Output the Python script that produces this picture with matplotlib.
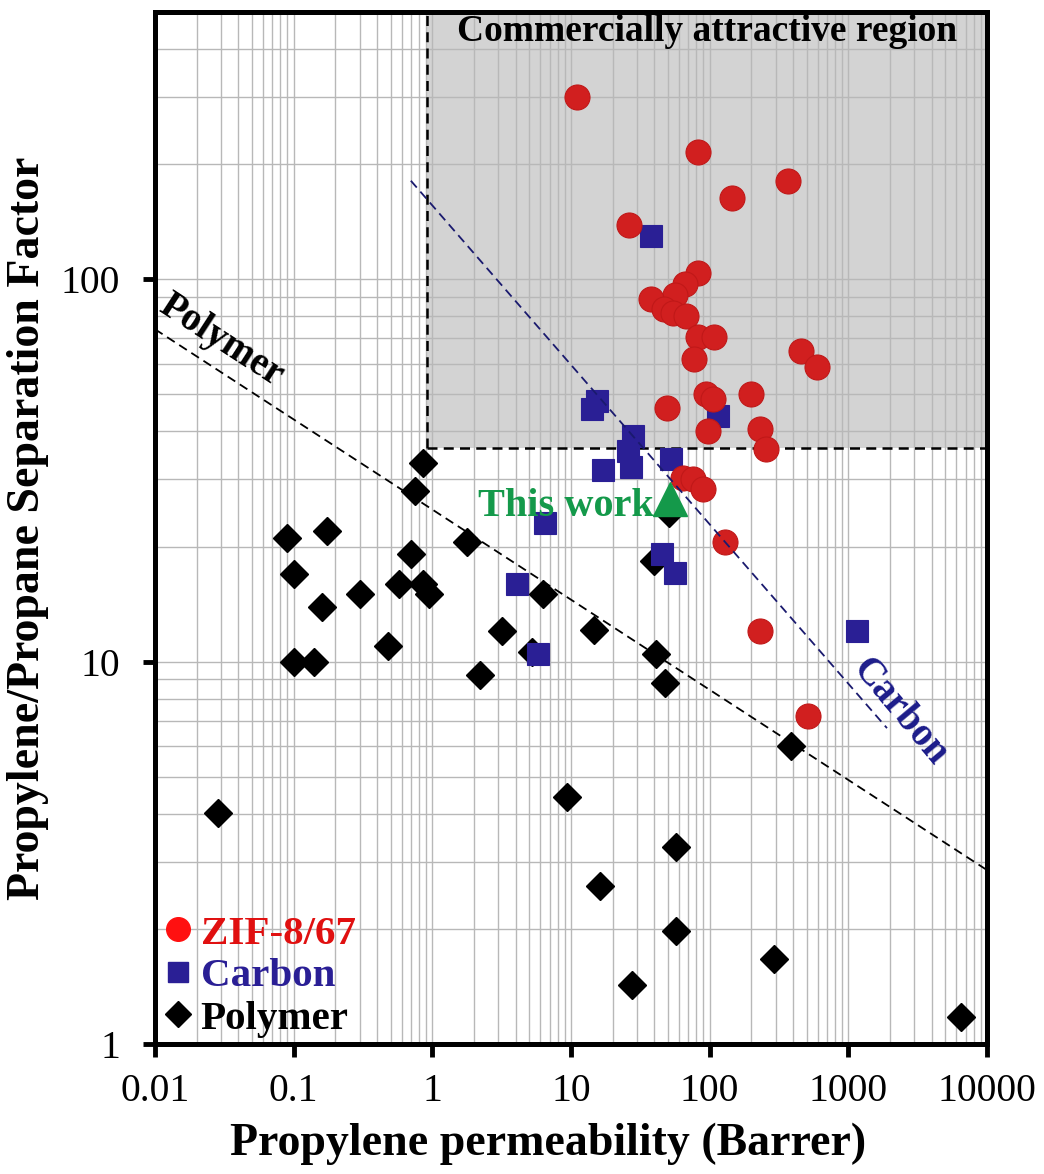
import matplotlib
matplotlib.use('Agg')
import matplotlib.pyplot as plt
from matplotlib.lines import Line2D
from matplotlib.ticker import FixedLocator, FixedFormatter, LogLocator

plt.rcParams['font.family'] = ['Liberation Serif', 'DejaVu Serif']

# ZIF-8/67 membranes: permeability (Barrer), selectivity
zif_x = [11, 82, 366, 145, 26, 82, 66, 56, 38, 47, 54, 67, 82, 107, 77, 455, 598,
         49, 94, 105, 198, 97, 229, 253, 64, 76, 89, 129, 229, 510]
zif_y = [300, 215, 181, 163, 139, 104, 97, 91, 89, 83.5, 81.5, 80, 70.5, 70.5, 62, 65, 59,
         46, 50, 48.5, 50, 40, 40.5, 36, 30.3, 30, 28.2, 20.5, 12, 7.2]

# carbon molecular sieve membranes
carbon_x = [38, 15.4, 14.2, 115, 28, 25.7, 27, 17, 53, 6.5, 45, 56, 4.1, 5.8, 1150]
carbon_y = [130, 48, 45.7, 44, 39, 35.5, 32.2, 31.8, 33.8, 23.1, 19.1, 17.1, 16, 10.5, 12]

# polymer membranes
polymer_x = [0.855, 0.75, 0.09, 0.174, 0.1, 0.16, 0.30, 0.70, 0.574, 0.855, 0.944, 1.78,
             6.3, 3.18, 14.6, 0.479, 0.1, 0.14, 2.2, 5.2, 41, 47.5, 39.6, 50.8, 385, 9.3,
             0.0284, 57, 16.2, 57, 290, 27.5, 6500]
polymer_y = [33, 27.9, 21, 22, 17, 13.9, 15, 19.1, 16, 16, 15, 20.5,
             15, 12, 12.1, 11, 10, 10, 9.2, 10.6, 10.5, 8.8, 18.3, 24.5, 6.0, 4.43,
             4.02, 3.28, 2.59, 1.98, 1.67, 1.43, 1.18]

this_work_x = [52]
this_work_y = [26.7]

# upper bound lines
polymer_line_x = [0.01, 10000]
polymer_line_y = [74, 2.85]
carbon_line_x = [0.7, 1900]
carbon_line_y = [181, 6.7]

# commercially attractive region (lower-left corner)
region_x = 0.91
region_y = 36.3

x_ticks = [0.01, 0.1, 1, 10, 100, 1000, 10000]
x_tick_labels = ['0.01', '0.1', '1', '10', '100', '1000', '10000']
y_ticks = [1, 10, 100]
y_tick_labels = ['1', '10', '100']
x_lim = (0.01, 10000)
y_lim = (1, 500)

red = '#d11f1f'
navy = '#2a1f95'
green = '#14994a'

fig = plt.figure(figsize=(10.44, 11.74), dpi=100)
ax = fig.add_axes([155 / 1044, 130 / 1174, 832 / 1044, 1032 / 1174])
ax.set_xscale('log')
ax.set_yscale('log')
ax.set_xlim(*x_lim)
ax.set_ylim(*y_lim)

# shaded region + dashed border
ax.fill_between([region_x, x_lim[1]], region_y, y_lim[1], color='#d3d3d3', lw=0, zorder=0.2)
ax.plot([region_x, region_x], [region_y, y_lim[1]], color='k', ls=(0, (4, 2.5)), lw=1.8, zorder=1.6)
ax.plot([region_x, x_lim[1]], [region_y, region_y], color='k', ls=(0, (4, 2.5)), lw=1.8, zorder=1.6)

ax.grid(True, which='both', color='#b8b8b8', lw=1.0)
ax.set_axisbelow(True)

ax.plot(polymer_line_x, polymer_line_y, color='k', ls=(0, (5, 3)), lw=1.3, zorder=1.5)
ax.plot(carbon_line_x, carbon_line_y, color='#1a1a6e', ls=(0, (5, 3)), lw=1.3, zorder=6)

ax.plot(polymer_x, polymer_y, ls='none', marker='D', ms=14, color='k', mec='k',
        mew=1.0, zorder=3)
ax.plot(carbon_x, carbon_y, ls='none', marker='s', ms=16.5, color=navy, mec=navy,
        mew=0.8, zorder=4)
ax.plot(zif_x, zif_y, ls='none', marker='o', ms=18, color=red, mec='#c01818',
        mew=0.8, zorder=5)
ax.plot(this_work_x, this_work_y, ls='none', marker='^', ms=24, color=green, zorder=7)

ax.text(39.5, 24, 'This work', color=green, fontsize=29, fontweight='bold',
        ha='right', va='baseline', zorder=8)
ax.text(0.663, 0.972, 'Commercially attractive region', transform=ax.transAxes,
        fontsize=27, fontweight='bold', ha='center', va='baseline')
ax.text(0.030, 69, 'Polymer', fontsize=28, fontweight='bold', rotation=-33,
        ha='center', va='center', rotation_mode='anchor')
ax.text(2350, 7.4, 'Carbon', fontsize=28, fontweight='bold', color='#1c1c8a',
        rotation=-50, ha='center', va='center', rotation_mode='anchor')

handles = [
    Line2D([], [], ls='none', marker='o', ms=17, color='#ff1010', mec='#ff1010'),
    Line2D([], [], ls='none', marker='s', ms=15, color=navy),
    Line2D([], [], ls='none', marker='D', ms=13, color='k'),
]
leg = ax.legend(handles, ['ZIF-8/67', 'Carbon', 'Polymer'], loc='lower left',
                bbox_to_anchor=(0.008, 0.006), frameon=False, borderpad=0,
                borderaxespad=0, handlelength=0.8, handletextpad=0.15,
                labelspacing=0.12, prop={'size': 29.5, 'weight': 'bold'})
for txt, col in zip(leg.get_texts(), ['#e01010', navy, 'k']):
    txt.set_color(col)

ax.xaxis.set_major_locator(FixedLocator(x_ticks))
ax.xaxis.set_major_formatter(FixedFormatter(x_tick_labels))
ax.yaxis.set_major_locator(FixedLocator(y_ticks))
ax.yaxis.set_major_formatter(FixedFormatter(y_tick_labels))
ax.xaxis.set_minor_locator(LogLocator(base=10, subs=range(2, 10), numticks=20))
ax.yaxis.set_minor_locator(LogLocator(base=10, subs=range(2, 10), numticks=20))
ax.tick_params(which='major', direction='out', length=9, width=3.5, labelsize=28.5)
ax.tick_params(axis='x', which='major', pad=12)
ax.tick_params(axis='y', which='major', pad=16)
ax.tick_params(which='minor', length=0)
for sp in ax.spines.values():
    sp.set_linewidth(3.6)

ax.set_xlabel('Propylene permeability (Barrer)', fontsize=33, fontweight='bold')
ax.set_ylabel('Propylene/Propane Separation Factor', fontsize=33, fontweight='bold')
ax.xaxis.set_label_coords(0.472, -0.076)
ax.yaxis.set_label_coords(-0.127, 0.5)

fig.savefig('out.png', dpi=100)
